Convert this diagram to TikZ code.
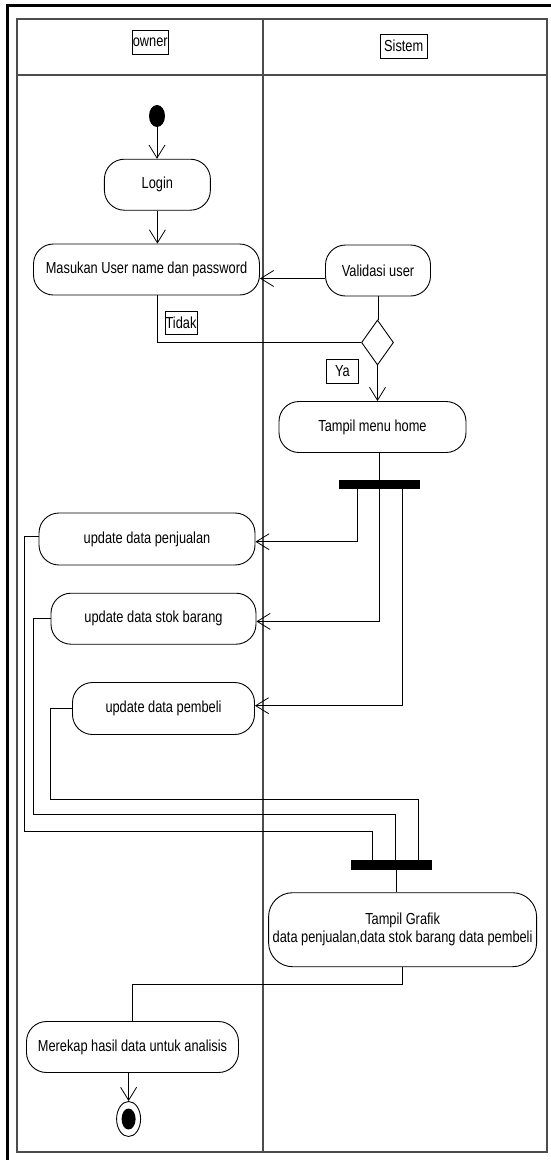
\documentclass[tikz,border=0pt]{standalone}
\usepackage{fontspec}
\setmainfont[FakeStretch=0.8]{Liberation Sans}
\usetikzlibrary{arrows.meta,shapes.geometric}
\begin{document}
\begin{tikzpicture}[x=1pt,y=-1pt,
  every node/.style={font=\fontsize{16}{18}\selectfont},
  act/.style={draw=black,line width=0.9pt,rounded corners=20pt,align=center,inner sep=0pt},
  lbl/.style={draw=black,line width=0.8pt,inner sep=0pt},
  bar/.style={fill=black,draw=none,inner sep=0pt},
  lane/.style={draw=black!70,line width=1.1pt},
  flow/.style={line width=0.8pt,black},
  arr/.style={flow,-{Straight Barb[length=13pt,width=16pt,line width=0.8pt]}}
]
\useasboundingbox (0,0) rectangle (550,1160);
\fill[white] (0,0) rectangle (550,1160);
% outer frame and swimlanes
\draw[line width=2.6pt] (7.5,5.5) rectangle (553,1164);
\draw[lane] (17,19) rectangle (547,1152);
\draw[lane] (17,75) -- (547,75);
\draw[lane] (263,19) -- (263,1152);
% headers
\node[lbl,minimum width=36pt,minimum height=24pt] (owner) at (150.3,42) {owner};
\node[lbl,minimum width=47pt,minimum height=24pt] (sistem) at (403.7,46) {Sistem};
% nodes
\node[ellipse,fill=black,minimum width=16pt,minimum height=22pt,inner sep=0pt] (start) at (157,116) {};
\node[act,minimum width=106pt,minimum height=51pt] (login) at (157.4,184.7) {Login};
\node[act,minimum width=226pt,minimum height=51pt] (masukan) at (146.5,269.5) {Masukan User name dan password};
\node[act,minimum width=105pt,minimum height=51pt] (validasi) at (378,270.5) {Validasi user};
\node[diamond,draw=black,line width=0.9pt,minimum width=32pt,minimum height=45pt,inner sep=0pt] (dec) at (377.5,342.5) {};
\node[lbl,minimum width=32pt,minimum height=23pt] (tidak) at (181,323) {Tidak};
\node[lbl,minimum width=32pt,minimum height=24pt] (ya) at (342.5,371) {Ya};
\node[act,minimum width=187pt,minimum height=51pt] (home) at (372.5,427) {Tampil menu home};
\node[bar,minimum width=81pt,minimum height=9pt] (fork) at (379,484.7) {};
\node[act,minimum width=216pt,minimum height=52pt] (penj) at (147,539) {update data penjualan};
\node[act,minimum width=205pt,minimum height=51pt] (stok) at (153.5,618.7) {update data stok barang};
\node[act,minimum width=182pt,minimum height=52pt] (pemb) at (163.5,708.5) {update data pembeli};
\node[bar,minimum width=81pt,minimum height=10pt] (join) at (391.6,865) {};
\node[act,rounded corners=24pt,minimum width=268pt,minimum height=74pt] (grafik) at (402.6,929.7) {Tampil Grafik\\data penjualan,data stok barang data pembeli};
\node[act,minimum width=212pt,minimum height=51pt] (rekap) at (132.5,1047) {Merekap hasil data untuk analisis};
\node[ellipse,draw=black,line width=0.9pt,minimum width=24pt,minimum height=35pt,inner sep=0pt] (end) at (128.6,1119) {};
\node[ellipse,fill=black,minimum width=14pt,minimum height=21pt,inner sep=0pt] (endin) at (128.6,1119) {};
% connectors
\draw[arr] (start.south) -- (start.south |- login.north);
\draw[arr] (login.south) -- (login.south |- masukan.north);
\draw[arr] ([yshift=-8pt]validasi.west) -- ([yshift=-8pt]validasi.west -| masukan.east);
\draw[flow] (validasi.south) -- (validasi.south |- dec.north);
\draw[flow] (dec.west) -| (login.south |- masukan.south);
\draw[arr] (dec.south) -- (dec.south |- home.north);
\draw[flow] (home.south -| fork.north) -- (fork.north);
\draw[arr] ([xshift=-22pt]fork.south) |- ([yshift=-2.7pt]penj.east);
\draw[arr] (fork.south) |- ([yshift=-2.7pt]stok.east);
\draw[arr] ([xshift=23.5pt]fork.south) |- ([yshift=2.8pt]pemb.east);
\draw[flow] ([yshift=3pt]penj.west) -- ++(-14,0) -- ++(0,295) -| ([xshift=-19.6pt]join.north);
\draw[flow] (stok.west) -- ++(-17,0) -- ++(0,195.3) -| ([xshift=3.8pt]join.north);
\draw[flow] (pemb.west) -- ++(-21.6,0) -- ++(0,90.5) -| ([xshift=27pt]join.north);
\draw[flow] ([xshift=4.9pt]join.south) -- ([xshift=4.9pt]join.south |- grafik.north);
\draw[flow] (grafik.south) -- ++(0,17.6) -| (rekap.north);
\draw[arr] (rekap.south -| end.north) -- (end.north);
\end{tikzpicture}
\end{document}
